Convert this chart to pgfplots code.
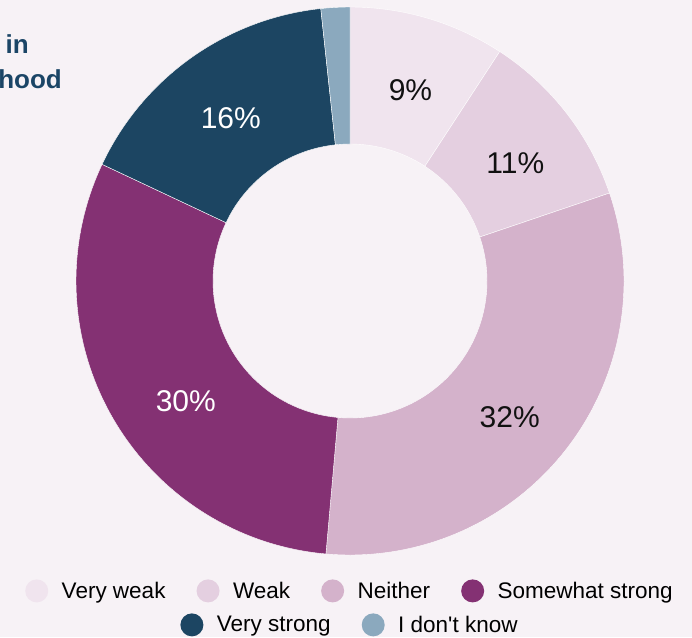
\documentclass[border=0pt]{standalone}
\usepackage{pgfplots}
\pgfplotsset{compat=1.18}
\usepackage{fontspec}
\setmainfont{Liberation Sans}
\newfontfamily\lib{Liberation Sans}
\definecolor{bg}{HTML}{F7F2F6}
\definecolor{cVW}{HTML}{F0E4EE}
\definecolor{cW}{HTML}{E4CFE0}
\definecolor{cN}{HTML}{D4B2CB}
\definecolor{cSS}{HTML}{843173}
\definecolor{cVS}{HTML}{1C4562}
\definecolor{cDK}{HTML}{8BA9BE}
\definecolor{ttl}{HTML}{1B4566}
\definecolor{dk}{HTML}{111111}
\begin{document}
\begin{tikzpicture}
\useasboundingbox (0pt,-637pt) rectangle (692pt,0pt);
\clip (0pt,-637pt) rectangle (692pt,0pt);
\fill[bg] (0pt,-637pt) rectangle (692pt,0pt);
\node[anchor=base east, inner sep=0pt, font=\bfseries\fontsize{26}{30}\selectfont, text=ttl] at (29pt,-53pt) {Sense of belonging in};
\node[anchor=base east, inner sep=0pt, font=\bfseries\fontsize{26}{30}\selectfont, text=ttl] at (62pt,-88pt) {the neighbourhood};
\begin{axis}[
  at={(350pt,-281pt)}, anchor=origin,
  x=274pt, y=274pt,
  xmin=-1.05, xmax=1.05, ymin=-1.05, ymax=1.05,
  hide axis, clip=false,
  legend columns=4,
  legend style={at={(axis cs:0,-1.131)}, anchor=center, draw=none, fill=none,
    font=\lib\fontsize{22.5}{26}\selectfont,
    /tikz/every even column/.append style={column sep=29pt}},
  legend image code/.code={\fill[#1, draw=none] (0pt,0pt) circle (11.5pt); \path[draw=none, fill=none] (0pt,0pt) -- (23pt,0pt);},
]
\pgfplotsextra{%
  \gdef\acc{0}%
  \foreach \v/\c/\t/\tc/\dx/\dy in {9.2/cVW/9\%/dk/0.007/-0.022, 10.6/cW/11\%/dk/0.011/-0.029, 31.6/cN/32\%/dk/-0.007/-0.033, 30.6/cSS/30\%/white/0.051/-0.066, 16.3/cVS/16\%/white/0/-0.015, 1.7/cDK//white/0/0} {
    \pgfmathsetmacro\newacc{\acc+\v}%
    \pgfmathsetmacro\a{90-\acc*3.6}%
    \pgfmathsetmacro\b{90-\newacc*3.6}%
    \pgfmathsetmacro\m{(\a+\b)/2}%
    \pgfmathsetmacro\xa{cos(\a)}\pgfmathsetmacro\ya{sin(\a)}%
    \pgfmathsetmacro\xb{0.5*cos(\b)}\pgfmathsetmacro\yb{0.5*sin(\b)}%
    \pgfmathsetmacro\xm{0.75*cos(\m)+\dx}\pgfmathsetmacro\ym{0.75*sin(\m)+\dy}%
    \fill[\c, draw=white, line width=0.4pt] (axis cs:\xa,\ya) arc[start angle=\a, end angle=\b, radius=274pt]
       -- (axis cs:\xb,\yb) arc[start angle=\b, end angle=\a, radius=137pt] -- cycle;
    \node[text=\tc, font=\lib\fontsize{30}{32}\selectfont] at (axis cs:\xm,\ym) {\t};
    \xdef\acc{\newacc}%
  }%
}
\addlegendimage{cVW}\addlegendentry{Very weak}
\addlegendimage{cW}\addlegendentry{Weak}
\addlegendimage{cN}\addlegendentry{Neither}
\addlegendimage{cSS}\addlegendentry{Somewhat strong}
\end{axis}
\begin{axis}[
  at={(350pt,-281pt)}, anchor=origin,
  x=274pt, y=274pt,
  xmin=-1.05, xmax=1.05, ymin=-1.05, ymax=1.05,
  hide axis, clip=false,
  legend columns=2,
  legend style={at={(axis cs:0,-1.255)}, anchor=center, draw=none, fill=none,
    font=\lib\fontsize{22.5}{26}\selectfont,
    /tikz/every even column/.append style={column sep=29pt}},
  legend image code/.code={\fill[#1, draw=none] (0pt,0pt) circle (11.5pt); \path[draw=none, fill=none] (0pt,0pt) -- (23pt,0pt);},
]
\addlegendimage{cVS}\addlegendentry{Very strong}
\addlegendimage{cDK}\addlegendentry{I don't know}
\end{axis}
\end{tikzpicture}
\end{document}
